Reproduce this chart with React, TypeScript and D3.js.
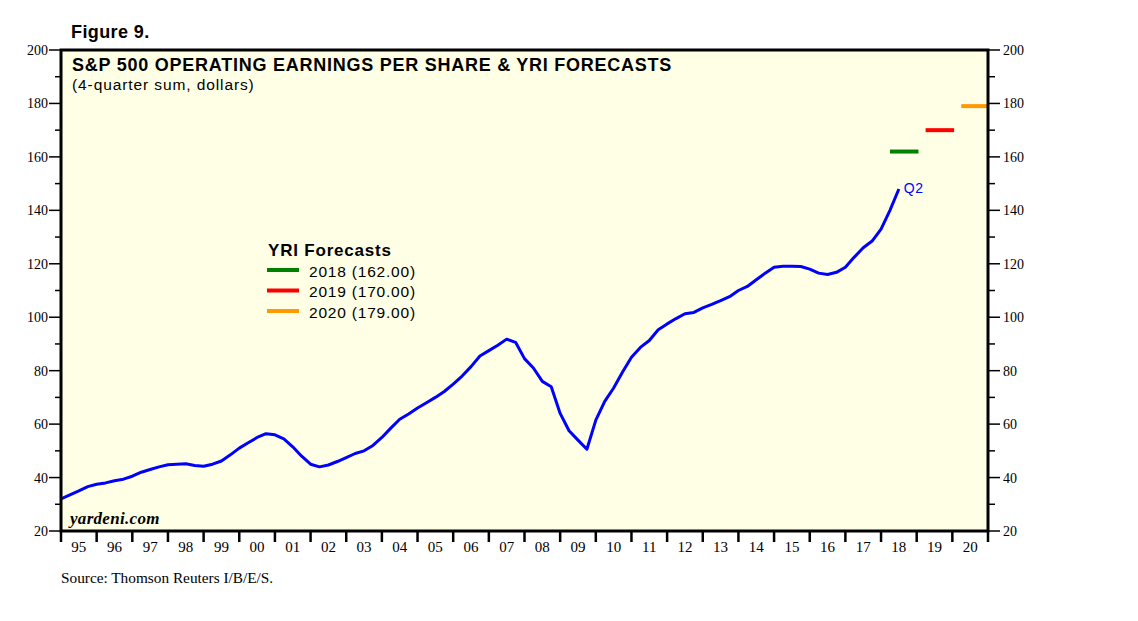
import React from "react";
import * as d3 from "d3";

// 4-quarter trailing operating EPS, quarter ends from 1994Q4 through 2018Q2
const quarterEnds: number[] = d3.range(0, 95).map((i) => 1995 + i * 0.25);
const epsValues: number[] = [
  32, 33.5, 35, 36.6, 37.5, 38, 38.8, 39.4, 40.5, 42, 43, 44,
  44.8, 45, 45.2, 44.5, 44.2, 45, 46.2, 48.5, 51, 53, 55, 56.4,
  56, 54.5, 51.5, 48, 45, 44, 44.7, 46, 47.5, 49, 50, 52,
  55, 58.5, 61.8, 63.8, 66, 68, 70, 72.2, 75, 78, 81.5, 85.5,
  87.5, 89.5, 91.8, 90.6, 84.5, 81, 76, 74, 64, 57.5, 54, 50.6,
  61.5, 68.5, 73.5, 79.5, 85, 88.7, 91.3, 95.3, 97.5, 99.5, 101.3, 101.8,
  103.5, 104.8, 106.2, 107.7, 110, 111.5, 114, 116.5, 118.7, 119.1, 119.1, 119,
  118, 116.5, 116, 116.8, 118.7, 122.5, 126, 128.5, 133, 140, 148,
];

const forecastYears = [2018, 2019, 2020];
const forecastValues = [162, 170, 179];
const forecastColors = ["#008000", "#ff0000", "#ff9900"];

const yearLabels = d3.range(1995, 2021).map((y) => String(y % 100).padStart(2, "0"));
const yTicks = d3.range(20, 201, 20);
const yMinorTicks = d3.range(30, 200, 20);

const W = 1138;
const H = 621;
const plot = { left: 61, right: 988, top: 50, bottom: 531 };

const serif = "'Liberation Serif', 'Times New Roman', serif";
const sans = "'Liberation Sans', Arial, Helvetica, sans-serif";

export default function App() {
  const x = d3.scaleLinear().domain([1995, 2021]).range([plot.left, plot.right]);
  const y = d3.scaleLinear().domain([20, 200]).range([plot.bottom, plot.top]);

  const line = d3
    .line<number>()
    .x((_, i) => x(quarterEnds[i]))
    .y((d) => y(d))(epsValues) || "";

  const last = epsValues.length - 1;

  return (
    <svg width={W} height={H} style={{ position: "absolute", left: 0, top: 0, background: "#fff" }}>
      <defs>
        <clipPath id="plotClip">
          <rect x={plot.left} y={plot.top} width={plot.right - plot.left} height={plot.bottom - plot.top} />
        </clipPath>
      </defs>

      <text x={71} y={38} fontFamily={sans} fontWeight="bold" fontSize={18} letterSpacing={0.4} fill="#000">
        Figure 9.
      </text>

      {/* plot background */}
      <rect x={plot.left} y={plot.top} width={plot.right - plot.left} height={plot.bottom - plot.top} fill="#ffffe6" />

      <text x={72} y={71} fontFamily={sans} fontWeight="bold" fontSize={18} letterSpacing={0.75} fill="#000">
        S&amp;P 500 OPERATING EARNINGS PER SHARE &amp; YRI FORECASTS
      </text>
      <text x={72} y={90} fontFamily={sans} fontSize={15.5} letterSpacing={0.9} fill="#000">
        (4-quarter sum, dollars)
      </text>

      {/* series */}
      <g clipPath="url(#plotClip)">
        <path d={line} fill="none" stroke="#0000ff" strokeWidth={3} strokeLinejoin="round" />
        {forecastYears.map((yr, i) => (
          <line
            key={yr}
            x1={x(yr + 0.25)}
            x2={x(Math.min(yr + 1.05, 2021))}
            y1={y(forecastValues[i])}
            y2={y(forecastValues[i])}
            stroke={forecastColors[i]}
            strokeWidth={4}
          />
        ))}
      </g>
      <text x={x(quarterEnds[last]) + 5} y={y(epsValues[last]) + 4} fontFamily={sans} fontSize={14} letterSpacing={0.5} fill="#0000ff">
        Q2
      </text>

      {/* legend */}
      <text x={268} y={256} fontFamily={sans} fontWeight="bold" fontSize={17} letterSpacing={0.8} fill="#000">
        YRI Forecasts
      </text>
      {forecastYears.map((yr, i) => (
        <g key={yr} transform={`translate(0, ${270 + i * 20.5})`}>
          <line x1={267} x2={299} y1={0} y2={0} stroke={forecastColors[i]} strokeWidth={4} />
          <text x={309} y={6.5} fontFamily={sans} fontSize={15.5} letterSpacing={0.8} fill="#000">
            {`${yr} (${forecastValues[i].toFixed(2)})`}
          </text>
        </g>
      ))}

      <text x={70} y={524} fontFamily={serif} fontStyle="italic" fontWeight="bold" fontSize={17} letterSpacing={0.3} fill="#000">
        yardeni.com
      </text>

      {/* frame */}
      <rect
        x={plot.left}
        y={plot.top}
        width={plot.right - plot.left}
        height={plot.bottom - plot.top}
        fill="none"
        stroke="#000"
        strokeWidth={3}
      />

      {/* y axes */}
      {yTicks.map((t) => (
        <g key={t}>
          <line x1={plot.left - 12} x2={plot.left} y1={y(t)} y2={y(t)} stroke="#000" strokeWidth={1.5} />
          <line x1={plot.right} x2={plot.right + 12} y1={y(t)} y2={y(t)} stroke="#000" strokeWidth={1.5} />
          <text x={48} y={y(t) + 5} textAnchor="end" fontFamily={serif} fontSize={14} fill="#000">
            {t}
          </text>
          <text x={1003} y={y(t) + 5} fontFamily={serif} fontSize={14} fill="#000">
            {t}
          </text>
        </g>
      ))}
      {yMinorTicks.map((t) => (
        <g key={t}>
          <line x1={plot.left - 6} x2={plot.left} y1={y(t)} y2={y(t)} stroke="#000" strokeWidth={1.5} />
          <line x1={plot.right} x2={plot.right + 7} y1={y(t)} y2={y(t)} stroke="#000" strokeWidth={1.5} />
        </g>
      ))}

      {/* x axis */}
      {d3.range(1995, 2022).map((yr) => (
        <line key={yr} x1={x(yr)} x2={x(yr)} y1={plot.bottom} y2={plot.bottom + 11} stroke="#000" strokeWidth={2.5} />
      ))}
      {yearLabels.map((lab, i) => (
        <text key={lab} x={x(1995 + i + 0.5)} y={552} textAnchor="middle" fontFamily={serif} fontSize={15} fill="#000">
          {lab}
        </text>
      ))}

      <text x={61} y={583} fontFamily={serif} fontSize={15.3} fill="#000">
        Source: Thomson Reuters I/B/E/S.
      </text>
    </svg>
  );
}
